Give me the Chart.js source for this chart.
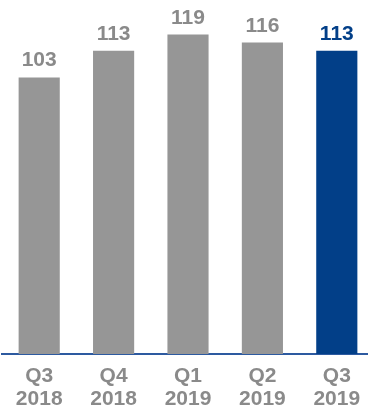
<!DOCTYPE html>
<html>
<head>
<meta charset="utf-8">
<script src="https://cdn.jsdelivr.net/npm/chart.js@4.4.1/dist/chart.umd.min.js"></script>
<style>
  html, body { margin: 0; padding: 0; background: #fff; overflow: hidden; }
  #wrap { position: absolute; left: 0; top: 0; width: 374px; height: 412px; }
</style>
</head>
<body>
<div id="wrap"><canvas id="chart"></canvas></div>
<script>
const quartale = [["Q3", "2018"], ["Q4", "2018"], ["Q1", "2019"], ["Q2", "2019"], ["Q3", "2019"]];
const werte = [103, 113, 119, 116, 113];

const GRAU = '#969696';
const GRAU_TEXT = '#8a8a8a';
const BLAU = '#023f88';
const SCHRIFT = "'Liberation Sans Narrow', 'Arial Narrow', 'Liberation Sans', Arial, sans-serif";

const farben = werte.map((v, i) => i === werte.length - 1 ? BLAU : GRAU);

// Werte über den Balken schreiben
const wertLabels = {
  id: 'wertLabels',
  afterDatasetsDraw(chart) {
    const ctx = chart.ctx;
    const meta = chart.getDatasetMeta(0);
    ctx.save();
    ctx.font = 'bold 21px ' + SCHRIFT;
    ctx.textAlign = 'center';
    ctx.textBaseline = 'alphabetic';
    meta.data.forEach((bar, i) => {
      ctx.fillStyle = i === werte.length - 1 ? BLAU : GRAU_TEXT;
      ctx.fillText(werte[i], bar.x, bar.y - 11);
    });
    ctx.restore();
  }
};

new Chart(document.getElementById('chart'), {
  type: 'bar',
  data: {
    labels: quartale,
    datasets: [{
      data: werte,
      backgroundColor: farben,
      borderWidth: 0,
      barPercentage: 0.553,
      categoryPercentage: 1
    }]
  },
  options: {
    responsive: true,
    maintainAspectRatio: false,
    animation: false,
    layout: { padding: { left: 2, right: 0, top: 5, bottom: 0 } },
    plugins: { legend: { display: false }, tooltip: { enabled: false } },
    scales: {
      x: {
        grid: { display: false, drawTicks: false },
        border: { display: true, color: '#2d5aa0', width: 2 },
        ticks: {
          color: GRAU_TEXT,
          padding: 10,
          maxRotation: 0,
          font: { family: SCHRIFT, size: 21, weight: 'bold', lineHeight: 1.12 }
        },
        afterFit(scale) { scale.height = 58; }
      },
      y: {
        display: false,
        min: 0,
        max: 130
      }
    }
  },
  plugins: [wertLabels]
});
</script>
</body>
</html>
